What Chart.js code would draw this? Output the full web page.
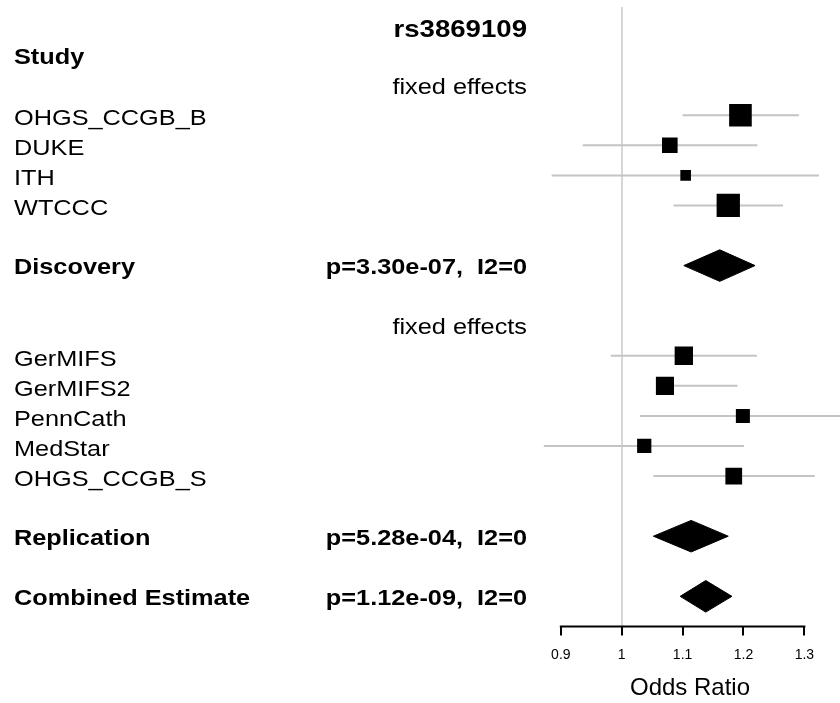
<!DOCTYPE html>
<html>
<head>
<meta charset="utf-8">
<title>rs3869109 forest plot</title>
<script src="https://cdn.jsdelivr.net/npm/chart.js@4.4.1/dist/chart.umd.min.js"></script>
<style>
  html, body { margin: 0; padding: 0; background: #ffffff; overflow: hidden; }
  #wrap { position: relative; width: 840px; height: 703px; }
  canvas { display: block; }
</style>
</head>
<body>
<div id="wrap"><canvas id="forest"></canvas></div>
<script>
// ---- data ----
const snpName = 'rs3869109';
const headerLabel = 'Study';
const methodLabel = 'fixed effects';

const studyLabels = ['OHGS_CCGB_B', 'DUKE', 'ITH', 'WTCCC', 'GerMIFS', 'GerMIFS2', 'PennCath', 'MedStar', 'OHGS_CCGB_S'];
const studyRows = [2, 3, 4, 5, 10, 11, 12, 13, 14];
const studyOR = [1.195, 1.079, 1.105, 1.175, 1.102, 1.071, 1.199, 1.037, 1.184];
const studyLower = [1.100, 0.936, 0.885, 1.085, 0.982, 1.058, 1.030, 0.872, 1.052];
const studyUpper = [1.291, 1.223, 1.324, 1.265, 1.222, 1.190, 1.396, 1.201, 1.317];
const studyWeight = [1.00, 0.69, 0.47, 1.03, 0.81, 0.80, 0.62, 0.63, 0.74];

const summaryLabels = ['Discovery', 'Replication', 'Combined Estimate'];
const summaryRows = [7, 16, 18];
const summaryStats = ['p=3.30e-07,  I2=0', 'p=5.28e-04,  I2=0', 'p=1.12e-09,  I2=0'];
const summaryOR = [1.161, 1.114, 1.138];
const summaryLower = [1.102, 1.052, 1.096];
const summaryUpper = [1.219, 1.175, 1.181];

const headerRow = 0;
const titleRow = -0.93;
const methodRows = [1, 9];

const xTicks = [0.9, 1, 1.1, 1.2, 1.3];
const xTickLabels = ['0.9', '1', '1.1', '1.2', '1.3'];

// ---- styling ----
const FONT = "'Liberation Sans', Arial, Helvetica, sans-serif";
const STRETCH = 1.15;       // the original text is a bit wider than Arial
const BOX_SCALE = 16;       // point radius per unit weight
const DIAMOND_HALF = 0.525; // diamond half height, in rows
const CI_COLOR = '#c4c4c4';

const ciDatasets = studyLabels.map((name, i) => ({
  type: 'line',
  label: name + ' CI',
  data: [{ x: studyLower[i], y: studyRows[i] }, { x: studyUpper[i], y: studyRows[i] }],
  borderColor: CI_COLOR,
  borderWidth: 2,
  pointRadius: 0,
  fill: false,
  order: 2
}));

const boxDataset = {
  type: 'scatter',
  label: 'studies',
  data: studyOR.map((v, i) => ({ x: v, y: studyRows[i] })),
  pointStyle: 'rect',
  pointRadius: studyWeight.map(w => w * BOX_SCALE),
  backgroundColor: '#000000',
  borderWidth: 0,
  order: 0
};

const diamondDatasets = summaryLabels.map((name, i) => {
  const r = summaryRows[i];
  return {
    type: 'line',
    label: name,
    data: [
      { x: summaryLower[i], y: r },
      { x: summaryOR[i], y: r - DIAMOND_HALF },
      { x: summaryUpper[i], y: r },
      { x: summaryOR[i], y: r + DIAMOND_HALF },
      { x: summaryLower[i], y: r }
    ],
    borderColor: '#000000',
    backgroundColor: '#000000',
    borderWidth: 1,
    pointRadius: 0,
    tension: 0,
    fill: 'shape',
    order: 0
  };
});

// text columns and the short axis line
const forestText = {
  id: 'forestText',
  afterDraw(chart) {
    const { ctx, scales } = chart;
    const y = scales.y;
    const x = scales.x;

    const put = (text, px, row, align, bold, size) => {
      ctx.save();
      ctx.translate(px, y.getPixelForValue(row) + size * 0.39);
      ctx.scale(STRETCH, 1);
      ctx.font = (bold ? 'bold ' : '') + size + 'px ' + FONT;
      ctx.fillStyle = '#000000';
      ctx.textAlign = align;
      ctx.textBaseline = 'alphabetic';
      ctx.fillText(text, 0, 0);
      ctx.restore();
    };

    const leftX = 14;
    const rightX = 527;

    put(snpName, rightX, titleRow, 'right', true, 24);
    put(headerLabel, leftX, headerRow, 'left', true, 22);
    methodRows.forEach(r => put(methodLabel, rightX, r, 'right', false, 22));
    studyLabels.forEach((name, i) => put(name, leftX, studyRows[i] + 0.04, 'left', false, 22));
    summaryLabels.forEach((name, i) => {
      put(name, leftX, summaryRows[i], 'left', true, 22);
      put(summaryStats[i], rightX, summaryRows[i], 'right', true, 22);
    });

    // axis line only spans the labelled range
    const yb = chart.chartArea.bottom;
    ctx.save();
    ctx.strokeStyle = '#000000';
    ctx.lineWidth = 2;
    ctx.beginPath();
    ctx.moveTo(x.getPixelForValue(xTicks[0]) - 1, yb);
    ctx.lineTo(x.getPixelForValue(xTicks[xTicks.length - 1]) + 1, yb);
    ctx.stroke();
    ctx.restore();
  }
};

const chart = new Chart(document.getElementById('forest'), {
  data: { datasets: [boxDataset, ...diamondDatasets, ...ciDatasets] },
  options: {
    responsive: true,
    maintainAspectRatio: false,
    animation: false,
    layout: { autoPadding: false, padding: { left: 540, right: 0, top: 7, bottom: -6 } },
    plugins: {
      legend: { display: false },
      tooltip: { enabled: false }
    },
    scales: {
      x: {
        type: 'linear',
        position: 'bottom',
        min: 0.8658,
        max: 1.3585,
        afterBuildTicks: (scale) => {
          scale.ticks = xTicks.map(v => ({ value: v }));
        },
        border: { display: false },
        grid: {
          drawOnChartArea: true,
          color: (c) => (c.tick && c.tick.value === 1 ? '#d6d6d6' : 'rgba(0,0,0,0)'),
          lineWidth: 2,
          tickColor: '#000000',
          tickLength: 9,
          tickWidth: 2
        },
        ticks: {
          autoSkip: false,
          maxRotation: 0,
          padding: 11,
          color: '#000000',
          font: { family: FONT, size: 14 },
          callback: (value) => {
            const k = xTicks.indexOf(value);
            return k >= 0 ? xTickLabels[k] : '';
          }
        },
        title: {
          display: true,
          text: 'Odds Ratio',
          color: '#000000',
          font: { family: FONT, size: 24 },
          padding: { top: 0, bottom: 6 }
        }
      },
      y: {
        type: 'linear',
        display: false,
        reverse: true,
        min: -1.6,
        max: 19
      }
    }
  },
  plugins: [forestText]
});
</script>
</body>
</html>
